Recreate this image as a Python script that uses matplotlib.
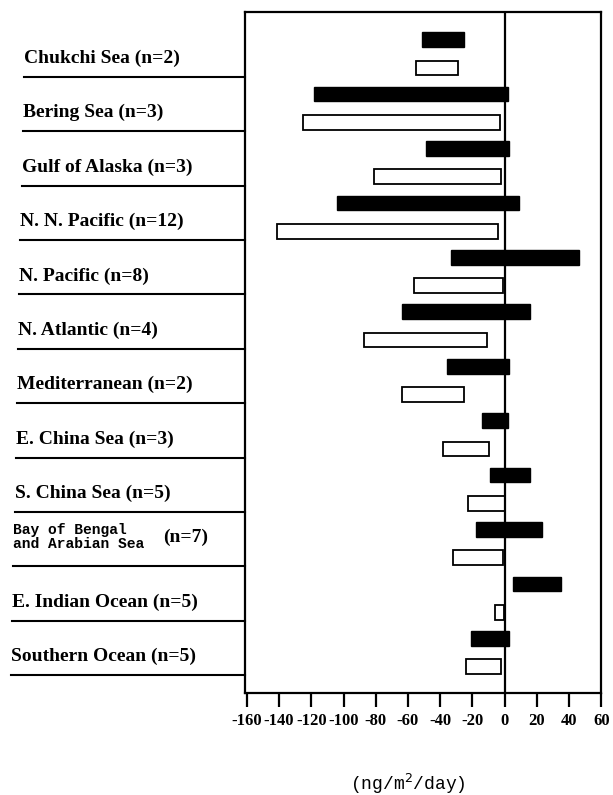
import matplotlib
matplotlib.use("Agg")
import matplotlib.pyplot as plt
from matplotlib.transforms import blended_transform_factory

regions = [
    "Chukchi Sea (n=2)",
    "Bering Sea (n=3)",
    "Gulf of Alaska (n=3)",
    "N. N. Pacific (n=12)",
    "N. Pacific (n=8)",
    "N. Atlantic (n=4)",
    "Mediterranean (n=2)",
    "E. China Sea (n=3)",
    "S. China Sea (n=5)",
    "Bay of Bengal\nand Arabian Sea",
    "E. Indian Ocean (n=5)",
    "Southern Ocean (n=5)",
]
bay_count = "(n=7)"

# flux ranges (ng/m2/day): filled bars and open bars
black_lo = [-51, -118, -49, -104, -33, -64, -36, -14, -9, -18, 5, -21]
black_hi = [-25, 2, 3, 9, 46, 16, 3, 2, 16, 23, 35, 3]
white_lo = [-55, -125, -81, -141, -56, -87, -64, -38, -23, -32, -6, -24]
white_hi = [-29, -3, -2, -4, -1, -11, -25, -10, 0, -1, -0.5, -2]

xticks = [-160, -140, -120, -100, -80, -60, -40, -20, 0, 20, 40, 60]

serif = ["Liberation Serif", "DejaVu Serif"]
mono = ["Liberation Mono", "DejaVu Sans Mono"]

fig = plt.figure(figsize=(6.13, 7.95), dpi=100)
ax = fig.add_axes([0.400, 0.128, 0.581, 0.857])

n = len(regions)
bh = 0.27
off = 0.26
for i in range(n):
    ax.barh(i - off, black_hi[i] - black_lo[i], left=black_lo[i], height=bh,
            color="black", edgecolor="black", linewidth=1.0)
    ax.barh(i + off, white_hi[i] - white_lo[i], left=white_lo[i], height=bh,
            color="white", edgecolor="black", linewidth=1.3)

ax.axvline(0, color="black", linewidth=1.6)
ax.set_xlim(-161, 60)
ax.set_ylim(11.75, -0.77)
ax.set_yticks([])
ax.set_xticks(xticks)
ax.set_xticklabels([str(t) for t in xticks], family=serif,
                   fontsize=12, fontweight="bold")
ax.tick_params(axis="x", direction="out", length=10, width=1.6, pad=4)
for s in ax.spines.values():
    s.set_linewidth(1.6)

# region labels with separator rules in the left margin
trans = blended_transform_factory(fig.transFigure, ax.transData)
for i, name in enumerate(regions):
    x0 = (24 - 13 * i / (n - 1)) / 613
    ax.plot([x0, 245 / 613], [i + 0.42, i + 0.42], color="black",
            linewidth=1.5, transform=trans, clip_on=False)
    if "\n" in name:
        ax.text(x0, i - 0.13, name, transform=trans, family=mono,
                fontsize=10.5, fontweight="bold", va="center", ha="left",
                linespacing=1.0)
        ax.text(163 / 613, i - 0.11, bay_count, transform=trans,
                family=serif, fontsize=14, fontweight="bold",
                va="center", ha="left")
    else:
        ax.text(x0, i + 0.08, name, transform=trans, family=serif,
                fontsize=14, fontweight="bold", va="center", ha="left")

fig.text(408 / 613, 1 - 784 / 795, r"(ng/m$^{2}$/day)", family=mono,
         fontsize=13, ha="center", va="center")

fig.savefig("out.png", dpi=100, facecolor="white")
